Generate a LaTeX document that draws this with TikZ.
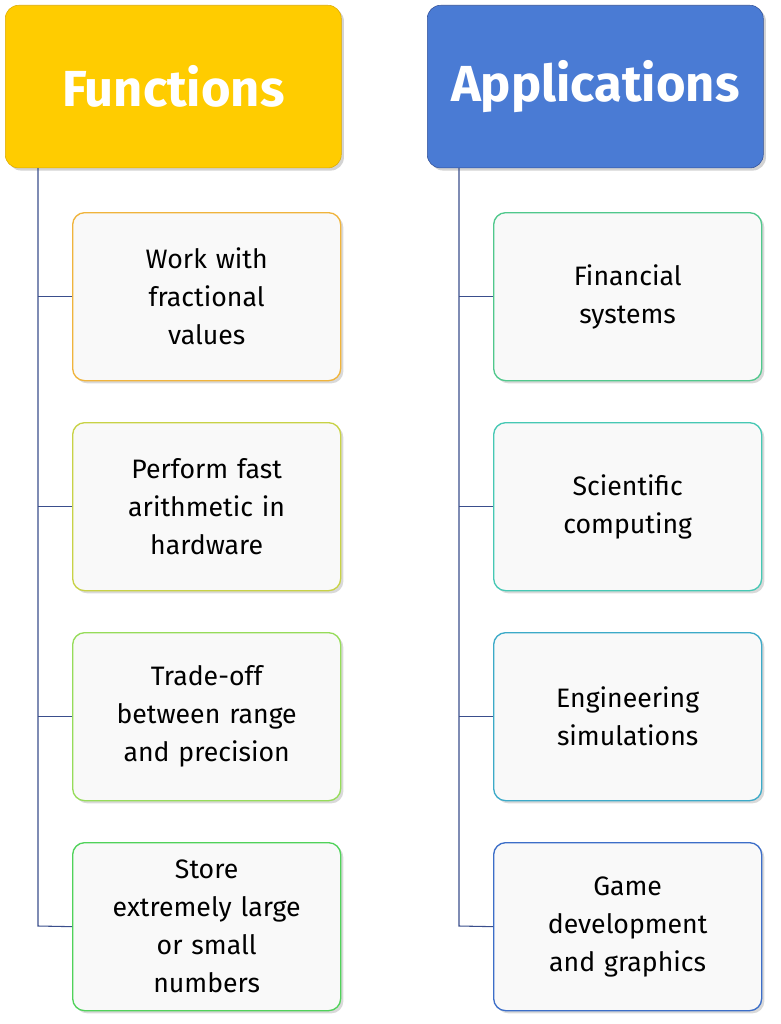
\documentclass[tikz,border=0pt]{standalone}
\usepackage{fontspec}
\setmainfont{Fira Sans}
\usetikzlibrary{shadows}
\definecolor{yel}{HTML}{FFCC00}
\definecolor{blu}{HTML}{4A7BD4}
\definecolor{ln}{HTML}{3A4E8C}
\tikzset{
 x=0.75pt,y=-0.75pt,
 head/.style={rounded corners=10pt,minimum width=252pt,minimum height=122pt,anchor=north west,text=white,font=\fontsize{38}{40}\selectfont\bfseries,drop shadow={opacity=0.35,shadow xshift=2pt,shadow yshift=-2pt}},
 item/.style={rounded corners=9pt,fill={rgb,255:red,249;green,249;blue,249},line width=1pt,minimum width=201pt,minimum height=126pt,anchor=north west,align=center,text width=190pt,font=\fontsize{20}{28.5}\selectfont,drop shadow={opacity=0.3,shadow xshift=2pt,shadow yshift=-2pt}},
 conn/.style={draw=ln,line width=0.8pt}
}
\begin{document}
\begin{tikzpicture}
\useasboundingbox (0,0) rectangle (781,1024);
\node[head,fill=yel,draw={rgb,255:red,220;green,170;blue,0}] (F) at (5,5) {Functions};
\node[head,fill=blu,draw={rgb,255:red,50;green,80;blue,150}] (A) at (427,5) {Applications};
\node[item,draw={rgb,255:red,240;green,180;blue,60}] (f1) at (72,212) {Work with\\fractional\\values};
\node[item,draw={rgb,255:red,200;green,210;blue,70}] (f2) at (72,422) {Perform fast\\arithmetic in\\hardware};
\node[item,draw={rgb,255:red,150;green,220;blue,90}] (f3) at (72,632) {Trade-off\\between range\\and precision};
\node[item,draw={rgb,255:red,80;green,210;blue,90}] (f4) at (72,842) {Store\\extremely large\\or small\\numbers};
\node[item,draw={rgb,255:red,80;green,200;blue,140}] (a1) at (493,212) {Financial\\systems};
\node[item,draw={rgb,255:red,70;green,200;blue,180}] (a2) at (493,422) {Scientific\\computing};
\node[item,draw={rgb,255:red,60;green,170;blue,200}] (a3) at (493,632) {Engineering\\simulations};
\node[item,draw={rgb,255:red,60;green,110;blue,200}] (a4) at (493,842) {Game\\development\\and graphics};
\coordinate (Fs) at (38,168); \coordinate (Fe) at (38,926);
\coordinate (As) at (459,168); \coordinate (Ae) at (459,926);
\draw[conn] (Fs) -- (Fe) -- (f4.west);
\draw[conn] (As) -- (Ae) -- (a4.west);
\foreach \n in {f1,f2,f3} \draw[conn] (\n.west) -- (\n.west -| Fs);
\foreach \n in {a1,a2,a3} \draw[conn] (\n.west) -- (\n.west -| As);
\end{tikzpicture}
\end{document}
